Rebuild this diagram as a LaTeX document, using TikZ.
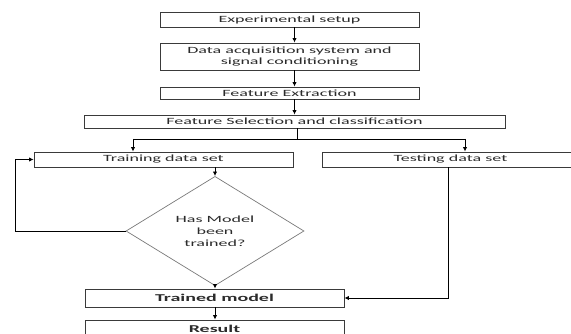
\documentclass[tikz,border=0pt]{standalone}
\usepackage{fontspec}
\setmainfont{Carlito}[FakeStretch=1.9]
\usetikzlibrary{shapes.geometric,arrows.meta}
\definecolor{txt}{HTML}{2B2B2B}
\definecolor{edge}{HTML}{3A3A3A}
\definecolor{dedge}{HTML}{7A7A7A}
\tikzset{
  box/.style={draw=edge, line width=0.9pt, rectangle, inner sep=0pt, text=txt,
    font=\fontsize{9.5}{11}\selectfont, align=center},
  bigbox/.style={box, font=\fontsize{10.5}{12}\selectfont\bfseries},
  dia/.style={draw=dedge, line width=0.7pt, diamond, inner sep=0pt, text=txt,
    font=\fontsize{9.5}{12}\selectfont, align=center,
    minimum width=178pt, minimum height=84pt},
  arr/.style={draw=black, line width=0.9pt, -{Latex[length=4.5pt,width=4.5pt]}},
  ln/.style={draw=black, line width=0.9pt}
}
\begin{document}
\begin{tikzpicture}[x=1pt,y=-1pt]
\useasboundingbox (0,0) rectangle (571,334);
\fill[white] (0,0) rectangle (571,334);
\node[box, minimum width=259pt, minimum height=15pt] (es) at (289.5,19.5) {Experimental setup};
\node[box, minimum width=259pt, minimum height=27pt] (da) at (289.5,56.5) {Data acquisition system and\\signal conditioning};
\node[box, minimum width=259pt, minimum height=12pt] (fe) at (289.5,93) {Feature Extraction};
\node[box, minimum width=421pt, minimum height=13pt] (fs) at (294.5,121.5) {Feature Selection and classification};
\node[box, minimum width=259pt, minimum height=15pt] (tr) at (163.5,159.5) {Training data set};
\node[box, minimum width=253pt, minimum height=15pt] (te) at (448.5,159.5) {\hspace*{4pt}Testing data set};
\node[dia] (dm) at (215,231) {Has Model\\been\\trained?};
\node[bigbox, minimum width=259pt, minimum height=18pt] (tm) at (214.5,298) {Trained model};
\node[bigbox, minimum width=259pt, minimum height=18pt] (rs) at (214.5,329) {Result};
\coordinate (ax) at (294.5,0);
\coordinate (bj) at (297,139);
\coordinate (bl) at (133,139);
\coordinate (br) at (465,139);
\coordinate (lp) at (15,0);
\coordinate (tx) at (448,0);
\draw[arr] (es.south -| ax) -- (da.north -| ax);
\draw[arr] (da.south -| ax) -- (fe.north -| ax);
\draw[arr] (fe.south -| ax) -- (fs.north -| ax);
\draw[ln] (fs.south -| bj) -- (bj);
\draw[ln] (bl) -- (br);
\draw[arr] (bl) -- (tr.north -| bl);
\draw[arr] (br) -- (te.north -| br);
\draw[arr] (tr.south -| dm.north) -- (dm.north);
\draw[arr] (dm.west) -- (dm.west -| lp) -- (tr.west -| lp) -- (tr.west);
\draw[arr] (dm.south) -- (tm.north -| dm.south);
\draw[arr] (te.south -| tx) -- (tx |- tm.east) -- (tm.east);
\draw[arr] (tm.south -| dm.south) -- (rs.north -| dm.south);
\end{tikzpicture}
\end{document}
